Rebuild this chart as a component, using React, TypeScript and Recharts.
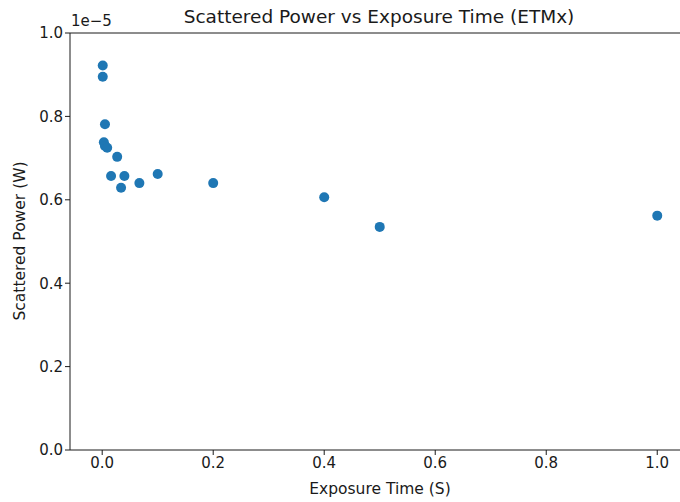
import React from 'react';
import { ScatterChart, Scatter, XAxis, YAxis, ReferenceLine } from 'recharts';

// exposure times (s) and scattered power (W)
const exposureTimes = [0.001, 0.001, 0.005, 0.003, 0.005, 0.009, 0.027, 0.016, 0.04, 0.034, 0.067, 0.1, 0.2, 0.4, 0.5, 1.0];
const scatteredPower = [9.22e-6, 8.95e-6, 7.81e-6, 7.38e-6, 7.29e-6, 7.25e-6, 7.03e-6, 6.57e-6, 6.57e-6, 6.29e-6, 6.4e-6, 6.62e-6, 6.4e-6, 6.06e-6, 5.35e-6, 5.62e-6];
const xTicks = [0, 0.2, 0.4, 0.6, 0.8, 1.0];
const yTicks = [0, 2e-6, 4e-6, 6e-6, 8e-6, 1e-5];

const data = exposureTimes.map((t, i) => ({ t, p: scatteredPower[i] }));

const font = 'DejaVu Sans, sans-serif';
const ink = '#1a1a1a';

const Dot = (props: any) => <circle cx={props.cx} cy={props.cy} r={5} fill="#1f77b4" />;

export default function App() {
  return (
    <div style={{ position: 'absolute', left: 0, top: 0, width: 680, height: 502, overflow: 'hidden', background: '#fff' }}>
      <ScatterChart width={690} height={502} margin={{ top: 33, right: 5, bottom: 0, left: 0 }}>
        <XAxis
          type="number"
          dataKey="t"
          domain={[-0.058, 1.05]}
          ticks={xTicks}
          allowDataOverflow
          tickFormatter={(v: number) => v.toFixed(1)}
          height={52}
          stroke={ink}
          tickSize={5}
          tick={{ fill: ink, fontSize: 15, fontFamily: font }}
        />
        <YAxis
          type="number"
          dataKey="p"
          domain={[0, 1e-5]}
          ticks={yTicks}
          allowDataOverflow
          tickFormatter={(v: number) => (v / 1e-5).toFixed(1)}
          width={70}
          stroke={ink}
          tickSize={5}
          tick={{ fill: ink, fontSize: 15, fontFamily: font }}
        />
        <ReferenceLine y={1e-5} stroke={ink} strokeWidth={1} />
        <ReferenceLine x={1.05} stroke={ink} strokeWidth={1} />
        <Scatter data={data} shape={Dot} isAnimationActive={false} />
      </ScatterChart>
      <svg width={690} height={502} style={{ position: 'absolute', left: 0, top: 0, pointerEvents: 'none' }}>
        <text x={379} y={23} textAnchor="middle" fontSize={18.5} fontFamily={font} fill={ink}>
          Scattered Power vs Exposure Time (ETMx)
        </text>
        <text x={71} y={26} fontSize={15} fontFamily={font} fill={ink}>1e−5</text>
        <text x={380} y={494} textAnchor="middle" fontSize={15.5} fontFamily={font} fill={ink}>Exposure Time (S)</text>
        <text
          x={25}
          y={241}
          textAnchor="middle"
          fontSize={15.5}
          fontFamily={font}
          fill={ink}
          transform="rotate(-90 25 241)"
        >
          Scattered Power (W)
        </text>
      </svg>
    </div>
  );
}
